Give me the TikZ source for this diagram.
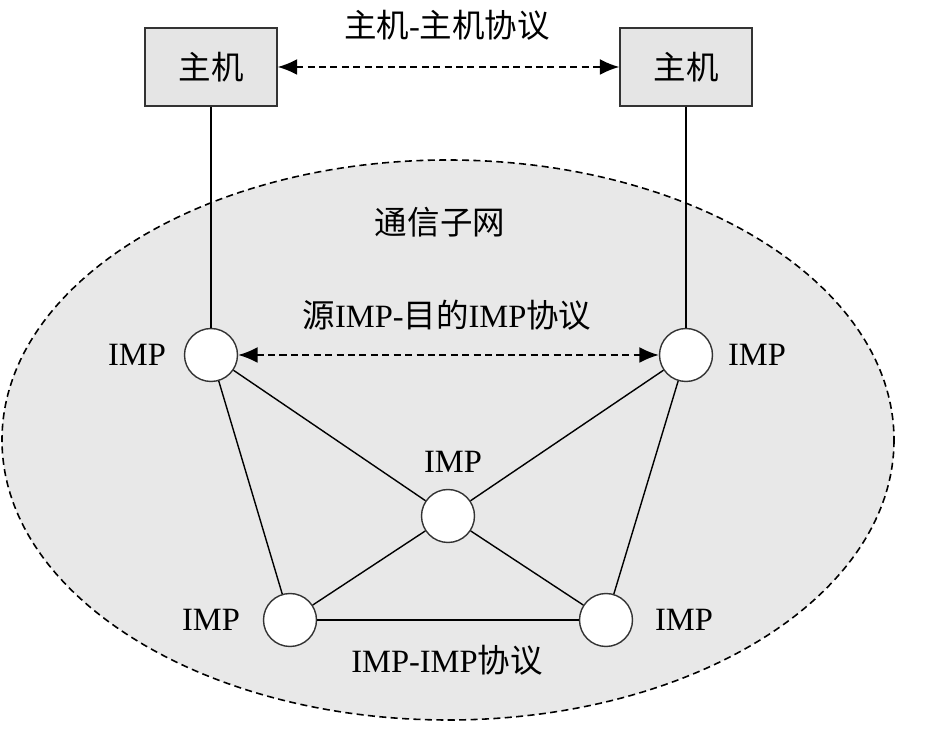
\documentclass[tikz,border=0pt]{standalone}
\usepackage{fontspec}
\setmainfont{Liberation Serif}
\newfontfamily\cjk{Noto Sans CJK SC}
\usepackage{tikz}
\usetikzlibrary{arrows, arrows.meta}

\begin{document}
\begin{tikzpicture}[x=0.02cm, y=-0.02cm, font=\fontsize{18.5}{22}\selectfont]
\tikzstyle{host}=[draw=black!80, fill=black!10, line width=0.8pt, minimum width=2.64cm, minimum height=1.56cm, inner sep=0pt]
\tikzstyle{imp}=[circle, draw=black!80, fill=white, line width=0.8pt, minimum size=1.06cm, inner sep=0pt]
\tikzstyle{proto}=[dash pattern=on 4pt off 2.5pt, line width=1pt, {Latex[length=11pt,width=9pt]}-{Latex[length=11pt,width=9pt]}]
\useasboundingbox (0,0) rectangle (930,732);

% subnet
\draw[dash pattern=on 4pt off 2.5pt, line width=0.9pt, fill=black!9] (448,440) ellipse (446 and 280);
\node (net) at (440,222) {\cjk 通信子网};

% hosts
\node[host] (h1) at (211,67) {\cjk 主机};
\node[host] (h2) at (686,67) {\cjk 主机};

% IMPs
\node[imp] (a) at (211,355) {};
\node[imp] (b) at (686,355) {};
\node[imp] (c) at (448,516) {};
\node[imp] (d) at (290,620) {};
\node[imp] (e) at (606,620) {};

\node (la) at (137,355) {IMP};
\node (lb) at (757,355) {IMP};
\node (lc) at (453,462) {IMP};
\node (ld) at (211,620) {IMP};
\node (le) at (684,620) {IMP};

\path[line width=0.8pt]
(h1) edge (a)
(h2) edge (b)
(a) edge (d)
    edge (c)
(b) edge (c)
    edge (e)
(c) edge (d)
    edge (e)
(d) edge (e);

\draw[proto] (h1) -- (h2);
\draw[proto] (a) -- (b);

\node (p1) at (447,25) {{\cjk 主机}-{\cjk 主机协议}};
\node (p2) at (447,315) {{\cjk 源}IMP-{\cjk 目的}IMP{\cjk 协议}};
\node (p3) at (447,660) {IMP-IMP{\cjk 协议}};

\end{tikzpicture}
\end{document}
